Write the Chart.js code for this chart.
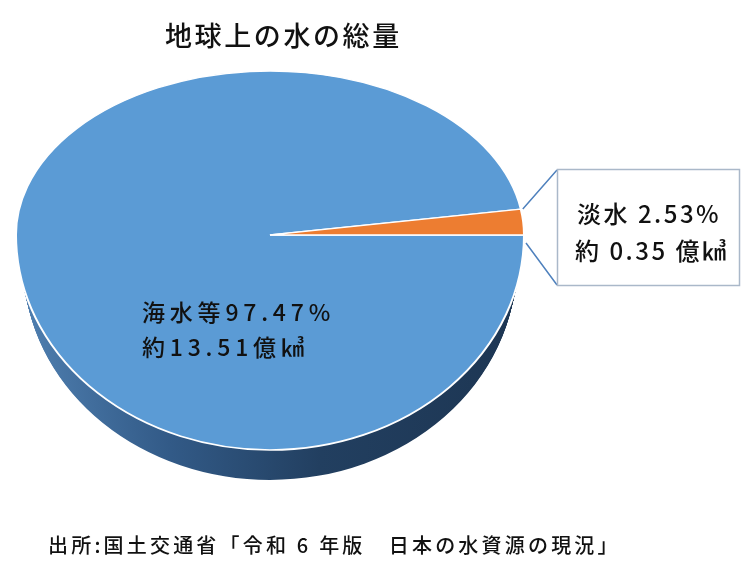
<!DOCTYPE html>
<html lang="ja">
<head>
<meta charset="utf-8">
<title>地球上の水の総量</title>
<script src="https://cdn.jsdelivr.net/npm/chart.js@4.4.1/dist/chart.umd.min.js"></script>
<style>
    html, body { margin: 0; padding: 0; background: #fff; }
    .wrap { position: relative; width: 750px; height: 570px; font-family: "Noto Sans CJK JP", sans-serif; font-weight: 500; color: #111; }
    #pieCanvas { position: absolute; left: 0; top: 0; }
    .title { position: absolute; left: 165px; top: 21px; font-size: 27px; line-height: 28px; letter-spacing: 2.6px; white-space: nowrap; }
    .source { position: absolute; left: 48px; top: 535px; font-size: 20px; line-height: 20px; letter-spacing: 3.2px; white-space: nowrap; }
</style>
</head>
<body>
<div class="wrap">
    <canvas id="pieCanvas" width="750" height="570"></canvas>
    <div class="title">地球上の水の総量</div>
    <div class="source">出所:国土交通省「令和 6 年版　日本の水資源の現況」</div>
</div>
<script>
var categories = ["海水等", "淡水"];
var shares = [97.47, 2.53];      // %
var volumes = [13.51, 0.35];     // 億㎦
var topColors = ["#5b9bd5", "#ed7d31"];
var sideColors = [null, "#7a3d12"];   // null -> blue gradient

// fake perspective: circle centre is moved to (CX, CY),
// upper half squashed more than the lower half
var CX = 270, CY = 235, SRC_Y = 285;
var K_TOP = 164 / 254, K_BOTTOM = 215 / 254;
var DEPTH = 30;
var SIDE_SHRINK = 0.03;   // bottom rim a bit narrower than the top

function halfTransform(ctx, upper, dy, sx) {
    ctx.beginPath();
    if (upper) {
        ctx.rect(0, 0, 750, CY + dy);
    } else {
        ctx.rect(0, CY + dy, 750, 570);
    }
    ctx.clip();
    ctx.translate(CX, CY + dy);
    ctx.scale(sx, upper ? K_TOP : K_BOTTOM);
    ctx.translate(-CX, -SRC_Y);
}

function mapPoint(x, y) {
    var k = y < SRC_Y ? K_TOP : K_BOTTOM;
    return { x: x, y: CY + (y - SRC_Y) * k };
}

function paintArc(ctx, arc, fill) {
    var orig = arc.options;
    if (fill) {
        arc.options = Object.assign({}, orig, { backgroundColor: fill, borderWidth: 0 });
    }
    arc.draw(ctx);
    arc.options = orig;
}

var pie3d = {
    id: "pie3d",
    beforeDatasetsDraw: function (chart) {
        var ctx = chart.ctx;
        var arcs = chart.getDatasetMeta(0).data;

        var grad = ctx.createLinearGradient(16, 0, 524, 0);
        grad.addColorStop(0, "#4f7fb0");
        grad.addColorStop(0.3, "#325a87");
        grad.addColorStop(0.6, "#223f60");
        grad.addColorStop(1, "#1d3653");

        // side wall
        for (var t = DEPTH; t >= 1; t--) {
            var sx = 1 - SIDE_SHRINK * t / DEPTH;
            [true, false].forEach(function (upper) {
                ctx.save();
                halfTransform(ctx, upper, t, sx);
                arcs.forEach(function (arc, i) {
                    paintArc(ctx, arc, sideColors[i] || grad);
                });
                ctx.restore();
            });
        }
        // top face
        [true, false].forEach(function (upper) {
            ctx.save();
            halfTransform(ctx, upper, 0, 1);
            arcs.forEach(function (arc) {
                paintArc(ctx, arc, null);
            });
            ctx.restore();
        });
        return false;
    },
    afterDraw: function (chart) {
        var ctx = chart.ctx;
        var fresh = chart.getDatasetMeta(0).data[1];

        // callout leader lines + box
        var p1 = mapPoint(fresh.x + fresh.outerRadius * Math.cos(fresh.startAngle),
            fresh.y + fresh.outerRadius * Math.sin(fresh.startAngle));
        var p2 = mapPoint(fresh.x + fresh.outerRadius * Math.cos(fresh.endAngle),
            fresh.y + fresh.outerRadius * Math.sin(fresh.endAngle));
        ctx.save();
        ctx.strokeStyle = "#4f81bd";
        ctx.lineWidth = 1.5;
        ctx.beginPath();
        ctx.moveTo(p1.x + 2, p1.y);
        ctx.lineTo(557, 170);
        ctx.moveTo(p2.x + 2, p2.y + 8);
        ctx.lineTo(557, 285);
        ctx.stroke();
        ctx.fillStyle = "#fff";
        ctx.fillRect(557, 169, 182, 116);
        ctx.strokeStyle = "#aab8c9";
        ctx.strokeRect(557.5, 169.5, 182, 116);

        ctx.fillStyle = "#111";
        ctx.textBaseline = "middle";
        ctx.textAlign = "left";

        ctx.font = "500 24px 'Noto Sans CJK JP'";
        ctx.letterSpacing = "2.5px";
        ctx.fillText(categories[1] + " " + shares[1] + "%", 577, 214);
        ctx.fillText("約 " + volumes[1] + " 億㎦", 575, 251);

        ctx.font = "500 23px 'Noto Sans CJK JP'";
        ctx.letterSpacing = "4.8px";
        ctx.fillText(categories[0] + shares[0] + "%", 142, 312);
        ctx.fillText("約" + volumes[0] + "億㎦", 142, 347);
        ctx.restore();
    }
};

var chart1 = new Chart(document.getElementById("pieCanvas"), {
    type: "pie",
    data: {
        labels: categories,
        datasets: [
            {
                data: shares,
                backgroundColor: topColors,
                borderColor: "#ffffff",
                borderWidth: 2,
                radius: 254,
            },
        ],
    },
    options: {
        responsive: false,
        animation: false,
        rotation: 90,
        layout: {
            padding: { left: 16, right: 226, top: 0, bottom: 0 },
        },
        plugins: {
            legend: { display: false },
            tooltip: { enabled: false },
            title: { display: false },
        },
    },
    plugins: [pie3d],
});
</script>
</body>
</html>
